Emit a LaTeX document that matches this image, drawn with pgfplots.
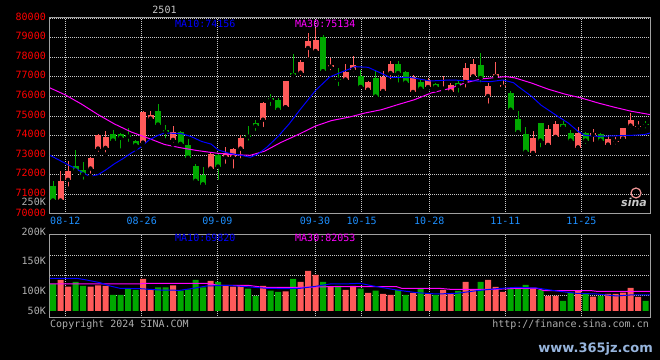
\documentclass[border=0pt]{standalone}
\usepackage{pgfplots}
\pgfplotsset{compat=1.18}
\usepackage{pgfplotstable}
\usepackage{fontspec}
\newfontfamily\monof{DejaVu Sans Mono}
\newfontfamily\sansf{DejaVu Sans}
\newcommand\monofont{\monof\fontsize{10bp}{12bp}\selectfont}
\definecolor{upc}{RGB}{255,90,90}
\definecolor{dnc}{RGB}{0,168,0}
\definecolor{gridc}{RGB}{200,200,200}
\definecolor{framec}{RGB}{160,160,160}
\definecolor{datec}{RGB}{30,144,255}
\definecolor{lblgray}{RGB}{175,175,175}
\definecolor{titlec}{RGB}{200,200,200}
\definecolor{wmc}{RGB}{150,180,220}
\definecolor{logoc}{RGB}{240,150,150}
\definecolor{ma10c}{RGB}{0,0,255}
\definecolor{ma30c}{RGB}{255,0,255}

\pgfplotstableread{
i o c h l
-1 70684 71670 72180 70616
0 71738 72214 72690 71296
3 72316 72860 72894 71942
4 73336 74016 74084 73064
5 73370 73931 74237 73030
10 73642 75206 75240 73472
11 74866 75070 75240 74645
14 73778 74186 74492 73540
19 72316 73064 73132 72265
21 72894 73132 73404 72452
22 72894 73302 73370 72214
23 73336 73880 74050 72724
26 74810 75660 75711 74334
29 75440 76787 76787 75440
31 77210 77771 77856 76905
32 78470 78828 79235 77873
33 78317 78879 79490 78130
35 77516 77584 77958 77227
37 76853 77244 77652 76853
38 77365 77601 78060 77142
40 76342 76736 76804 76190
42 76274 77006 77278 76088
43 77193 77652 77788 76770
46 76223 77006 77074 76088
48 76478 76836 76937 76427
50 76400 76400 77040 76257
51 76240 76580 76682 76240
53 76733 77448 77703 76342
54 77023 77652 77907 76937
56 76019 76529 76682 75526
57 77023 77142 77754 76937
58 76495 76580 76852 76342
62 73115 73880 74220 72996
64 73523 74334 74526 73489
65 73931 74594 74725 73914
68 73387 74135 74424 73387
70 74050 74118 74334 73574
72 73540 73825 73978 73472
73 73693 73744 73927 73438
74 73846 74390 74390 73778
75 74509 74798 75155 74283
76 74458 74509 74725 74220
}\candup

\pgfplotstableread{
i o c h l
-2 71415 70684 71670 70650
1 72446 72214 73264 72010
2 72248 72010 72656 71646
6 74084 73744 74288 73642
7 74084 73880 74118 73230
8 74016 73948 74390 73574
9 73744 73506 73778 73336
12 75257 74560 75614 74526
13 74288 74186 74526 73744
15 74186 73574 74254 73540
16 73540 72860 73812 72860
17 72452 71687 72554 71602
18 72010 71500 72400 71500
20 73030 72418 73132 71636
24 74050 73948 74492 73642
25 74657 74487 74793 74130
27 75916 75831 76120 75406
28 75814 75320 75916 75116
30 77193 77074 78164 77023
34 79031 77278 79133 77278
36 76904 76853 77448 76426
39 77040 76478 77346 76478
41 76937 75984 77363 75984
44 77652 77193 77822 76600
45 77244 76700 77312 76666
47 76733 76393 76836 76155
49 76631 76478 76665 76342
52 76682 76529 76767 76088
55 77618 76937 78214 76600
59 76172 75320 76274 75218
60 74844 74181 75253 74130
61 74084 73166 74436 73064
63 74640 73744 74640 73285
66 74594 74441 74760 74254
67 74118 73744 74300 73523
69 74135 73744 74186 73472
71 74084 73744 74118 73625
77 74594 74526 74725 74254
}\canddn

\pgfplotstableread{
i v
-1 77500
0 60800
3 60800
4 64200
5 62500
10 80000
11 52500
14 64200
19 75000
21 62500
22 60800
23 62500
26 62500
29 49200
31 72500
32 100000
33 90000
35 61700
37 52500
38 62500
40 45000
42 42500
43 40000
46 45000
48 42500
50 52500
51 42500
53 72500
54 52500
56 77500
57 60000
58 47500
62 58300
64 37500
65 37500
68 50000
70 35800
72 42500
73 42500
74 45800
75 57500
76 35000
}\volup

\pgfplotstableread{
i v
-2 67500
1 72500
2 62500
6 40000
7 40000
8 55800
9 52500
12 59200
13 59200
15 50800
16 54200
17 77500
18 59200
20 72500
24 55800
25 37500
27 50800
28 47500
30 80000
34 72500
36 62500
39 55800
41 50800
44 52500
45 40000
47 55800
49 40000
52 50000
55 72500
59 55000
60 59200
61 65000
63 52500
66 25000
67 45800
69 42500
71 37500
77 25000
}\voldn

\pgfplotsset{
  kstyle/.style={
    scale only axis, anchor=south west,
    xmin=-2.4, xmax=77.6,
    axis line style={draw=framec, line width=1bp},
    major tick length=0pt,
    scaled y ticks=false, scaled x ticks=false,
    grid style={draw=gridc, line width=0.8bp, dash pattern=on 1bp off 1bp},
    xmajorgrids, ymajorgrids,
    tick label style={font=\monofont, inner sep=0pt},
    xtick={-0.36,9.83,19.91,32.93,39.16,48.17,58.31,68.44},
    clip=false,
  },
  wick/.style={only marks, mark=none, forget plot,
    error bars/.cd, y dir=plus, y explicit, error mark=none,
    error bar style={#1, line width=1bp}},
  body/.style={only marks, mark=none, forget plot,
    error bars/.cd, y dir=plus, y explicit, error mark=none,
    error bar style={#1, line width=6bp}},
}

\begin{document}
\begin{tikzpicture}
\useasboundingbox (0,0) rectangle (660bp,360bp);
\fill[black] (0,0) rectangle (660bp,360bp);

% ---------- price panel ----------
\begin{axis}[kstyle,
  at={(50bp,146.1bp)}, width=600bp, height=195.9bp,
  ymin=70000, ymax=80000,
  ytick={70000,71000,72000,73000,74000,75000,76000,77000,78000,79000,80000},
  yticklabels={70000,71000,72000,73000,74000,75000,76000,77000,78000,79000,80000},
  yticklabel style={text=red, anchor=east, xshift=-4bp, yshift=1.5bp},
  xticklabels={08-12,08-26,09-09,09-30,10-15,10-28,11-11,11-25},
  xticklabel style={text=datec, anchor=north, yshift=-3.3bp},
]
\addplot[wick=upc] table[x=i, y=l, y error expr=\thisrow{h}-\thisrow{l}] {\candup};
\addplot[body=upc] table[x=i, y=o, y error expr=\thisrow{c}-\thisrow{o}] {\candup};
\addplot[wick=dnc] table[x=i, y=l, y error expr=\thisrow{h}-\thisrow{l}] {\canddn};
\addplot[body=dnc] table[x=i, y=c, y error expr=\thisrow{o}-\thisrow{c}] {\canddn};

\addplot[ma30c, line width=1bp, mark=none] coordinates {
(-2.4,76430)(-0.44,76090)(1.78,75610)(4,75070)(6.2,74590)(8.44,74180)(10.8,73850)
(12.9,73540)(15.1,73370)(17.3,73230)(19.6,73110)(21.8,73030)(24.3,72990)(26.2,73200)
(28.4,73650)(30.7,74050)(32.9,74470)(35.1,74760)(37.6,74950)(39.6,75150)(41.8,75320)
(44,75580)(46.2,75830)(48.4,76170)(50.9,76400)(52.9,76680)(55.1,76890)(57.3,76970)
(58.4,77010)(59.6,76940)(61.8,76680)(64,76370)(66.2,76120)(68.4,75920)(70.7,75660)
(72.9,75440)(75.1,75240)(77.6,75070)};

\addplot[ma10c, line width=1bp, mark=none] coordinates {
(-2.4,72990)(0,72510)(0.9,72340)(1.8,72140)(2.9,71920)(4,72000)(5.1,72260)(6.2,72560)
(7.33,72820)(8.44,73110)(9.56,73364)(10.8,73770)(12,74010)(12.9,74130)(15.1,74100)
(16.4,73950)(17.8,73700)(19.1,73560)(20,73270)(21.3,73110)(23.1,72990)(24.3,72890)
(25.3,73050)(26.5,73400)(28,73950)(29.5,74600)(31,75350)(33,76300)(34.9,76990)
(36.3,77210)(38.3,77516)(40,77483)(41.6,77210)(42.9,76973)(45.6,76973)(48.3,76784)
(50.9,76835)(53.6,76800)(56.3,76750)(58,76835)(59.4,76697)(60,76512)(61.8,76002)
(63.1,75543)(64.3,75237)(65.3,74980)(66.7,74640)(68,74215)(68.9,74010)(70.7,73960)
(75.1,74010)(76.9,74050)(77.6,74130)};

\node[anchor=east, xshift=-4bp, inner sep=0pt, text=lblgray, font=\monofont] at (axis cs:-2.4,70620) {250K};
\end{axis}

% ---------- volume panel ----------
\begin{axis}[kstyle,
  at={(50bp,42bp)}, width=600bp, height=83.3bp,
  ymin=-17500, ymax=190750,
  ytick={40000,90000,140000}, yticklabels={},
  xticklabels={},
]
\addplot[ybar, bar width=6bp, bar shift=0pt, fill=upc, draw=none, forget plot] table[x=i, y=v] {\volup};
\addplot[ybar, bar width=6bp, bar shift=0pt, fill=dnc, draw=none, forget plot] table[x=i, y=v] {\voldn};

\addplot[ma30c, line width=1bp, mark=none] coordinates {
(-2.4,67500)(9.6,67500)(10,69200)(18.5,69200)(20,64200)(24,64200)(26,59200)(30.9,59200)
(34.9,60800)(43.8,60800)(44.5,56700)(49.5,56700)(51,54200)(57,54200)(59.8,56700)
(62.5,56700)(63.5,50800)(69.8,50800)(70.5,49200)(77.6,49200)};
\addplot[ma10c, line width=1bp, mark=none] coordinates {
(-2.4,81700)(1.16,81700)(2.49,77500)(4.27,70800)(5.6,62500)(6.93,56700)(9.6,55800)
(12.27,52500)(14.93,51700)(16.7,56700)(18.49,62500)(21.16,64200)(23.8,60800)(26.5,56700)
(29.16,55800)(30.93,56700)(32.7,60800)(34.93,67500)(36.7,67500)(38.93,69200)(40.7,62500)
(43.8,52500)(46.5,45800)(49.16,42500)(51.8,44200)(54.5,50800)(57.16,55800)(59.8,59200)
(62.5,57500)(65.16,50000)(67.8,44200)(70.5,42500)(73.16,37500)(74.9,40000)(77.6,40000)};

\node[anchor=east, xshift=-4bp, inner sep=0pt, text=lblgray, font=\monofont] at (axis cs:-2.4,198000) {200K};
\node[anchor=east, xshift=-4bp, inner sep=0pt, text=lblgray, font=\monofont] at (axis cs:-2.4,125000) {150K};
\node[anchor=east, xshift=-4bp, inner sep=0pt, text=lblgray, font=\monofont] at (axis cs:-2.4,50000) {100K};
\node[anchor=east, xshift=-4bp, inner sep=0pt, text=lblgray, font=\monofont] at (axis cs:-2.4,0) {50K};
\end{axis}

% ---------- texts ----------
\node[anchor=base, inner sep=0pt, text=titlec, font=\monofont] at (164.5bp,346bp) {2501};
\node[anchor=base west, inner sep=0pt, text=ma10c, font=\monofont] at (175bp,332.7bp) {MA10:74156};
\node[anchor=base west, inner sep=0pt, text=ma30c, font=\monofont] at (295bp,332.7bp) {MA30:75134};
\node[anchor=base west, inner sep=0pt, text=ma10c, font=\monofont] at (175bp,118bp) {MA10:69820};
\node[anchor=base west, inner sep=0pt, text=ma30c, font=\monofont] at (295bp,118bp) {MA30:82053};
\node[anchor=base west, inner sep=0pt, text=lblgray, font=\monofont] at (50bp,32.5bp) {Copyright 2024 SINA.COM};
\node[anchor=base east, inner sep=0pt, text=lblgray, font=\monofont] at (649bp,32.5bp) {http://finance.sina.com.cn};
\draw[logoc, line width=1.2bp] (636bp,167bp) circle (5bp);
\node[anchor=base, inner sep=0pt, text=titlec, font=\sansf\bfseries\itshape\fontsize{11bp}{12bp}\selectfont] at (634bp,153bp) {sina};
\node[anchor=base east, inner sep=0pt, text=wmc, font=\sansf\bfseries\fontsize{13bp}{14bp}\selectfont] at (653bp,8bp) {www.365jz.com};
\end{tikzpicture}
\end{document}
